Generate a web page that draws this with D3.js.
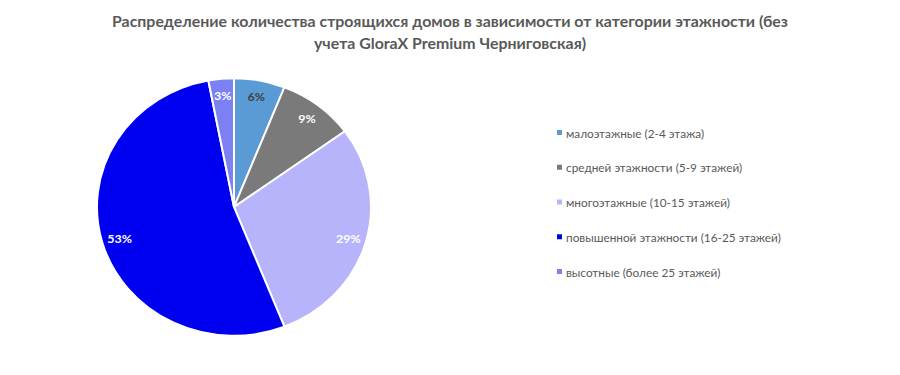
<!DOCTYPE html>
<html>
<head>
<meta charset="utf-8">
<script src="https://cdn.jsdelivr.net/npm/d3@7"></script>
<style>
  body { margin: 0; background: #fff; }
  svg { display: block; font-family: Lato, "Open Sans", sans-serif; }
</style>
</head>
<body>
<div id="canvas"></div>
<script>
  const categories = [
    'малоэтажные (2-4 этажа)',
    'средней этажности (5-9 этажей)',
    'многоэтажные (10-15 этажей)',
    'повышенной этажности (16-25 этажей)',
    'высотные (более 25 этажей)'
  ];
  const values = [6, 9, 29, 53, 3];
  const colors = ['#5b9bd5', '#7a7a7a', '#b8b4fb', '#0000f0', '#7b80f2'];
  const labelColors = ['#404040', '#ffffff', '#ffffff', '#ffffff', '#ffffff'];
  const titleLines = [
    'Распределение количества строящихся домов в зависимости от категории этажности (без',
    'учета GloraX Premium Черниговская)'
  ];

  const width = 900;
  const height = 375;
  const centerX = 234;
  const centerY = 207;
  const radius = 137;
  const squash = 0.94; // the picture is a bit flattened vertically

  const svg = d3.select('#canvas')
    .append('svg')
    .attr('width', width)
    .attr('height', height);

  svg.append('rect').attr('width', width).attr('height', height).attr('fill', '#fff');

  // Title
  svg.selectAll('.title')
    .data(titleLines)
    .enter()
    .append('text')
    .attr('class', 'title')
    .attr('transform', (d, i) => `translate(450,${27 + i * 22}) scale(1,${squash})`)
    .attr('text-anchor', 'middle')
    .style('font-size', '15.9px')
    .style('font-weight', 'bold')
    .attr('fill', '#595959')
    .text((d) => d);

  const data = categories.map((c, i) => ({ name: c, value: values[i], color: colors[i], labelColor: labelColors[i] }));

  const pie = d3.pie().value((d) => d.value).sort(null);
  const arc = d3.arc().innerRadius(0).outerRadius(radius);
  const labelArc = d3.arc().innerRadius(radius * 0.87).outerRadius(radius * 0.87);

  const g = svg.append('g').attr('transform', `translate(${centerX},${centerY}) scale(1,${squash})`);

  const arcs = pie(data);

  g.selectAll('path')
    .data(arcs)
    .enter()
    .append('path')
    .attr('d', arc)
    .attr('fill', (d) => d.data.color)
    .attr('stroke', '#fff')
    .attr('stroke-width', 2);

  g.selectAll('.lbl')
    .data(arcs)
    .enter()
    .append('text')
    .attr('class', 'lbl')
    .attr('transform', (d) => `translate(${labelArc.centroid(d)})`)
    .attr('text-anchor', 'middle')
    .attr('dominant-baseline', 'central')
    .style('font-size', '12.5px')
    .style('font-weight', 'bold')
    .attr('fill', (d) => d.data.labelColor)
    .text((d) => d.data.value + '%');

  // Legend
  const legendY = d3.scalePoint().domain(categories).range([133, 272]);
  const legend = svg.selectAll('.legend')
    .data(data)
    .enter()
    .append('g')
    .attr('class', 'legend')
    .attr('transform', (d) => `translate(557,${legendY(d.name)})`);

  legend.append('rect')
    .attr('x', 0).attr('y', -3)
    .attr('width', 5).attr('height', 5)
    .attr('fill', (d) => d.color);

  legend.append('text')
    .attr('x', 9)
    .attr('y', 0)
    .attr('dominant-baseline', 'central')
    .style('font-size', '11.8px')
    .attr('fill', '#595959')
    .text((d) => d.name);
</script>
</body>
</html>
